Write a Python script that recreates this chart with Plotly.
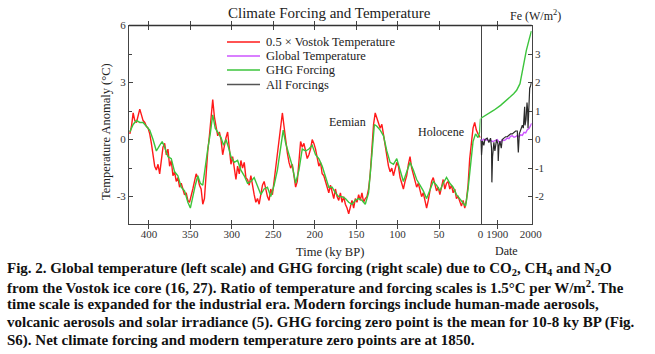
import plotly.graph_objects as go

# ---------------- data ----------------
# Vostok temperature (x0.5), degC vs ky BP
vostok_ky = [423,421,419,417,415,413,411,409,407,405,403,401,399,397,395,393,391,389,387,385,383,381,379,377,375,373,371,369,367,365,363,361,359,357,355,353,351,349,347,345,343,341,339,337,335,333,331,329,327,325,323,321,319,317,315,313,311,309,307,305,303,301,299,297,295,293,291,289,287,285,283,281,279,277,275,273,271,269,267,265,263,261,259,257,255,253,251,249,247,245,243,241,239,237,235,233,231,229,227,225,223,221,219,217,215,213,211,209,207,205,203,201,199,197,195,193,191,189,187,185,183,181,179,177,175,173,171,169,167,165,163,161,159,157,155,153,151,149,147,145,143,141,139,137,135,133,131,129,127,125,123,121,119,117,115,113,111,109,107,105,103,101,99,97,95,93,91,89,87,85,83,81,79,77,75,73,71,69,67,65,63,61,59,57,55,53,51,49,47,45,43,41,39,37,35,33,31,29,27,25,23,21,19,17,15,13,11,9,7,5,3,1,0]
vostok_temp = [0.3,0.7,1.4,1.0,0.9,1.2,1.6,1.3,1.0,0.9,0.7,0.6,0.3,-0.2,-0.9,-1.4,-1.6,-1.3,-1.8,-1.2,-0.4,-0.2,-0.8,-0.5,-1.4,-1.1,-1.9,-1.7,-2.2,-2.0,-2.5,-2.3,-2.6,-2.9,-2.8,-3.2,-3.3,-3.0,-2.6,-2.2,-1.8,-2.0,-2.4,-2.6,-3.4,-3.1,-1.5,-0.6,0.2,1.1,2.1,1.2,0.6,0.2,0.4,0.0,-0.8,-0.3,0.1,0.4,-0.4,-1.3,-0.9,-1.5,-2.1,-1.4,-1.8,-1.1,-1.5,-1.2,-2.0,-2.1,-2.4,-1.9,-2.5,-2.9,-3.3,-3.1,-3.4,-2.8,-2.4,-2.2,-2.7,-3.0,-3.2,-2.6,-2.9,-2.2,-1.6,-0.9,-0.2,0.6,1.4,0.7,-0.2,-0.7,-1.2,-1.5,-1.3,-1.9,-2.5,-2.2,-1.1,-0.1,-0.4,-0.2,-0.6,-1.0,-0.8,-0.5,0.0,-0.2,-0.5,-0.9,-1.4,-1.2,-1.8,-1.9,-2.2,-2.6,-2.8,-2.4,-2.7,-3.1,-2.6,-3.0,-3.2,-2.8,-3.3,-3.0,-3.4,-3.6,-3.9,-3.5,-3.2,-3.6,-3.1,-3.3,-2.9,-3.2,-2.8,-3.3,-3.1,-3.0,-2.6,-1.8,-0.4,0.8,1.4,1.1,0.9,0.6,0.8,0.2,-0.4,-0.9,-1.4,-1.7,-1.5,-1.9,-1.6,-1.2,-1.4,-2.0,-2.3,-2.6,-2.2,-1.9,-1.3,-0.9,-1.5,-1.8,-2.1,-2.5,-2.3,-2.7,-3.0,-2.8,-3.3,-3.6,-3.2,-2.7,-2.2,-2.0,-2.4,-2.7,-2.5,-2.9,-2.5,-2.1,-2.6,-2.3,-2.2,-2.6,-2.4,-2.8,-2.6,-3.1,-3.0,-3.3,-3.5,-3.2,-3.6,-3.2,-2.4,-1.0,-0.3,0.6,0.9,0.5,0.3,0.2,0.1]

# GHG forcing (W/m2) vs ky BP
ghg_ky = [423,419,415,411,407,403,399,395,391,387,384,381,377,373,369,365,361,357,353,350,347,344,341,338,335,332,329,326,323,320,317,313,310,307,304,301,297,293,289,285,281,277,273,269,265,261,257,253,249,245,241,238,235,231,227,223,219,215,211,207,203,199,195,191,187,183,179,175,171,167,163,159,155,151,147,143,139,135,131,128,125,121,117,113,109,105,101,97,93,89,85,81,77,73,69,65,61,57,53,49,45,41,37,33,29,25,21,18,15,12,9,6,3,1,0]
ghg_forcing = [0.27,0.53,0.67,0.60,0.60,0.47,0.33,0.00,-0.40,-0.20,-0.07,-0.27,-0.60,-0.67,-1.13,-1.27,-1.67,-1.80,-2.20,-2.40,-1.93,-1.60,-1.27,-1.53,-1.60,-0.87,-0.33,0.20,0.87,0.40,0.27,0.07,-0.20,0.00,-0.27,-0.60,-0.80,-0.73,-1.07,-1.27,-1.53,-1.47,-1.33,-1.67,-1.93,-1.73,-1.67,-2.00,-1.60,-1.07,-0.27,0.33,-0.13,-0.53,-0.93,-1.53,-1.07,-0.33,-0.40,-0.33,-0.20,-0.53,-0.67,-0.93,-1.33,-1.67,-1.67,-1.87,-2.00,-2.00,-2.07,-2.20,-2.27,-2.13,-2.07,-2.13,-2.27,-1.87,-0.53,0.53,0.47,0.33,0.13,-0.40,-0.80,-0.87,-0.67,-1.07,-1.47,-1.13,-0.80,-1.07,-1.40,-1.60,-1.80,-2.07,-1.73,-1.47,-1.60,-1.80,-1.53,-1.33,-1.53,-1.67,-1.93,-2.07,-2.20,-2.33,-1.73,-0.80,-0.07,0.20,0.07,0.27,0.73]

# Industrial era
ghg_year = [1850,1866,1890,1910,1929,1939,1949,1958,1968,1977,1987,1996,2002]
ghg_modern = [0.74,0.85,1.03,1.20,1.38,1.50,1.61,1.73,1.96,2.55,3.13,3.54,3.80]

gtemp_year = [1850,1855,1860,1865,1870,1875,1880,1885,1890,1895,1900,1905,1910,1915,1920,1925,1930,1935,1940,1945,1950,1955,1960,1965,1970,1975,1980,1985,1990,1995,2000,2003]
gtemp = [0.00,-0.05,0.02,-0.03,0.00,-0.08,-0.02,-0.10,-0.08,-0.04,0.00,-0.12,-0.15,-0.02,-0.05,0.00,0.08,0.05,0.18,0.20,0.12,0.15,0.22,0.15,0.25,0.22,0.38,0.35,0.52,0.58,0.75,0.85]

allf_year = [1850,1853,1856,1860,1863,1870,1875,1880,1883,1884,1886,1888,1890,1893,1895,1898,1902,1903,1905,1908,1912,1915,1920,1925,1930,1935,1940,1945,1950,1955,1960,1963,1966,1970,1975,1978,1980,1982,1983,1986,1989,1991,1992,1994,1997,2000,2002]
allf = [0.00,-0.55,-0.05,-0.20,0.00,0.05,-0.10,0.05,-0.30,-1.50,-0.60,-0.20,-0.10,-0.40,-0.20,0.00,-0.15,-0.75,-0.25,-0.05,-0.30,0.00,0.05,0.10,0.10,0.15,0.20,0.20,0.25,0.30,0.30,-0.45,0.20,0.35,0.50,0.40,0.90,1.15,0.50,0.70,1.30,1.00,0.40,1.30,1.80,1.90,2.00]

left_ticks = [-3, 0, 3, 6]
right_ticks = [-3, -2, -1, 0, 1, 2, 3]
ky_ticks = [400, 350, 300, 250, 200, 150, 100, 50, 0]
year_ticks = [1900, 2000]

legend_names = ["0.5 \u00d7 Vostok Temperature", "Global Temperature", "GHG Forcing", "All Forcings"]

# ---------------- styling ----------------
W, H = 655, 354
SERIF = "Liberation Serif"
RED = "#ff1a1a"
GREEN = "#3cc43c"
PURPLE = "#cc55ff"
BLACK = "#2a2a2a"
legend_colors = [RED, PURPLE, GREEN, "#555555"]

def px(x):
    return x / W

def py(y):
    return 1 - y / H

x_left, x_div, x_right = 129, 480.5, 531.7
y_top, y_bot = 25.5, 224

fig = go.Figure()

fig.add_trace(go.Scatter(x=vostok_ky, y=vostok_temp, xaxis="x", yaxis="y", mode="lines",
                         line=dict(color=RED, width=1.4), name=legend_names[0]))
fig.add_trace(go.Scatter(x=gtemp_year, y=gtemp, xaxis="x2", yaxis="y", mode="lines",
                         line=dict(color=PURPLE, width=1.4), name=legend_names[1]))
fig.add_trace(go.Scatter(x=ghg_ky, y=ghg_forcing, xaxis="x", yaxis="y2", mode="lines",
                         line=dict(color=GREEN, width=1.4), name=legend_names[2]))
fig.add_trace(go.Scatter(x=ghg_year, y=ghg_modern, xaxis="x2", yaxis="y2", mode="lines",
                         line=dict(color=GREEN, width=1.4), name=legend_names[2]))
fig.add_trace(go.Scatter(x=allf_year, y=allf, xaxis="x2", yaxis="y2", mode="lines",
                         line=dict(color=BLACK, width=1.2), name=legend_names[3]))

tickfont = dict(family=SERIF, size=11, color="#333333")
axcol = "#444444"

common = dict(ticks="inside", ticklen=4, tickcolor=axcol, showline=True, linecolor=axcol,
              linewidth=1, showgrid=False, zeroline=False, tickfont=tickfont, automargin=False)

fig.update_layout(
    width=W, height=H,
    margin=dict(l=0, r=0, t=0, b=0, autoexpand=False),
    paper_bgcolor="white", plot_bgcolor="rgba(0,0,0,0)",
    showlegend=False,
    xaxis=dict(domain=[px(x_left), px(x_div)], range=[424, 0], anchor="y",
               tickvals=ky_ticks, ticktext=[str(v) for v in ky_ticks],
               mirror="allticks", **common),
    xaxis2=dict(domain=[px(x_div), px(x_right)], range=[1850, 2003], anchor="y",
                tickvals=year_ticks, ticktext=[str(v) for v in year_ticks],
                mirror="allticks", **common),
    yaxis=dict(domain=[py(y_bot), py(y_top)], range=[-4.44, 6], anchor="x",
               tickvals=left_ticks, ticktext=[str(v) for v in left_ticks],
               mirror=True,
               minor=dict(tickvals=[-1.5, 1.5, 4.5], ticks="inside", ticklen=3, tickcolor=axcol),
               **common),
    yaxis2=dict(range=[-2.96, 4], overlaying="y", anchor="x2", side="right",
                tickvals=right_ticks, ticktext=[str(v) for v in right_ticks],
                **common),
)

# top edge of the frame
fig.add_shape(type="line", xref="paper", yref="paper", x0=px(x_left), x1=px(x_right),
              y0=py(y_top), y1=py(y_top), line=dict(color="#333333", width=1.3), layer="above")

# hand-drawn legend (keys + labels)
leg_y = [42, 56, 70, 84.5]
for name, col, yy in zip(legend_names, legend_colors, leg_y):
    fig.add_shape(type="line", xref="paper", yref="paper", x0=px(227), x1=px(260),
                  y0=py(yy), y1=py(yy), line=dict(color=col, width=1.6))
    fig.add_annotation(text=name, x=px(264), y=py(yy), xref="paper", yref="paper",
                       showarrow=False, xanchor="left", yanchor="middle",
                       font=dict(family=SERIF, size=12.5, color="#222222"))

ann = [
    dict(text="Climate Forcing and Temperature", x=px(330), y=py(13), size=15),
    dict(text="Fe (W/m<sup>2</sup>)", x=px(535), y=py(15), size=12),
    dict(text="Time (ky BP)", x=px(330), y=py(252), size=12.5),
    dict(text="Date", x=px(506), y=py(251), size=12),
    dict(text="Eemian", x=px(347), y=py(122), size=12),
    dict(text="Holocene", x=px(441), y=py(132), size=12),
]
for a in ann:
    fig.add_annotation(text=a["text"], x=a["x"], y=a["y"], xref="paper", yref="paper",
                       showarrow=False, xanchor="center", yanchor="middle",
                       font=dict(family=SERIF, size=a["size"], color="#222222"))

fig.add_annotation(text="Temperature Anomaly (\u00b0C)", x=px(106), y=py(132), xref="paper",
                   yref="paper", showarrow=False, textangle=-90, xanchor="center",
                   yanchor="middle", font=dict(family=SERIF, size=12.5, color="#222222"))

caption = [
    "Fig. 2. Global temperature (left scale) and GHG forcing (right scale) due to CO<sub>2</sub>, CH<sub>4</sub> and N<sub>2</sub>O",
    "from the Vostok ice core (16, 27). Ratio of temperature and forcing scales is 1.5\u00b0C per W/m<sup>2</sup>. The",
    "time scale is expanded for the industrial era. Modern forcings include human-made aerosols,",
    "volcanic aerosols and solar irradiance (5). GHG forcing zero point is the mean for 10-8 ky BP (Fig.",
    "S6). Net climate forcing and modern temperature zero points are at 1850.",
]
cap_y = [269, 287, 304, 322, 340]
for t, yy in zip(caption, cap_y):
    fig.add_annotation(text="<b>" + t + "</b>", x=px(5), y=py(yy), xref="paper", yref="paper",
                       showarrow=False, xanchor="left", yanchor="middle",
                       font=dict(family=SERIF, size=15, color="#111111"))

fig.write_html("out.html")
